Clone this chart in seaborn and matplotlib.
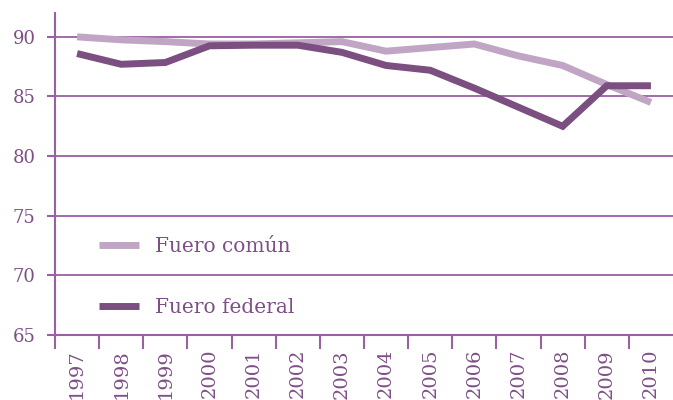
import pandas as pd
import seaborn as sns
import matplotlib.pyplot as plt
from matplotlib.ticker import FixedLocator

# values
years = [1997, 1998, 1999, 2000, 2001, 2002, 2003, 2004, 2005, 2006, 2007, 2008, 2009, 2010]
fuero_comun = [90.0, 89.75, 89.6, 89.4, 89.4, 89.5, 89.6, 88.8, 89.1, 89.4, 88.4, 87.6, 86.0, 84.5]
fuero_federal = [88.6, 87.7, 87.85, 89.25, 89.3, 89.3, 88.7, 87.6, 87.2, 85.7, 84.1, 82.5, 85.9, 85.9]
series_names = ['Fuero común', 'Fuero federal']

df = pd.DataFrame({
    'year': years * 2,
    'value': fuero_comun + fuero_federal,
    'serie': [series_names[0]] * len(years) + [series_names[1]] * len(years),
})

axis_col = '#9b5fa5'
text_col = '#7d4f86'
palette = {series_names[0]: '#c0a6c4', series_names[1]: '#7b4f7f'}

sns.set_style('white')
plt.rcParams['font.family'] = ['DejaVu Serif']

fig = plt.figure(figsize=(6.73, 4.0), dpi=100)
ax = fig.add_axes([55 / 673, 65 / 400, 618 / 673, 322 / 400])

sns.lineplot(data=df, x='year', y='value', hue='serie', palette=palette,
             linewidth=5, ax=ax, legend=True)
for ln in ax.get_lines():
    ln.set_solid_capstyle('butt')
    ln.set_solid_joinstyle('miter')

ax.set_xlim(1996.5, 2010.5)
ax.set_ylim(65, 92)
ax.set_yticks([65, 70, 75, 80, 85, 90])
ax.set_xticks(years)
ax.set_xticklabels([str(y) for y in years], rotation=90)
ax.xaxis.set_minor_locator(FixedLocator([y - 0.5 for y in years]))
ax.tick_params(axis='x', which='both', bottom=True)
ax.tick_params(axis='y', which='both', left=True)
ax.tick_params(axis='x', which='major', length=0, pad=10, labelsize=14, labelcolor=text_col)
ax.tick_params(axis='x', which='minor', length=10, width=1.5, color=axis_col, direction='out')
ax.tick_params(axis='y', length=6, width=1.5, color=axis_col, labelsize=13,
               labelcolor=text_col, pad=8, direction='out')
ax.set_xlabel('')
ax.set_ylabel('')

for y in [70, 75, 80, 85, 90]:
    ax.axhline(y, color=axis_col, lw=1.3, zorder=0)

for side in ['top', 'right']:
    ax.spines[side].set_visible(False)
for side in ['left', 'bottom']:
    ax.spines[side].set_color(axis_col)
    ax.spines[side].set_linewidth(1.5)

leg = ax.legend(loc='lower left', bbox_to_anchor=(0.042, 0.0), frameon=False,
                fontsize=14.5, labelspacing=2.1, handlelength=2.0, handletextpad=0.8)
for t in leg.get_texts():
    t.set_color(text_col)

fig.savefig('out.png', dpi=100)
